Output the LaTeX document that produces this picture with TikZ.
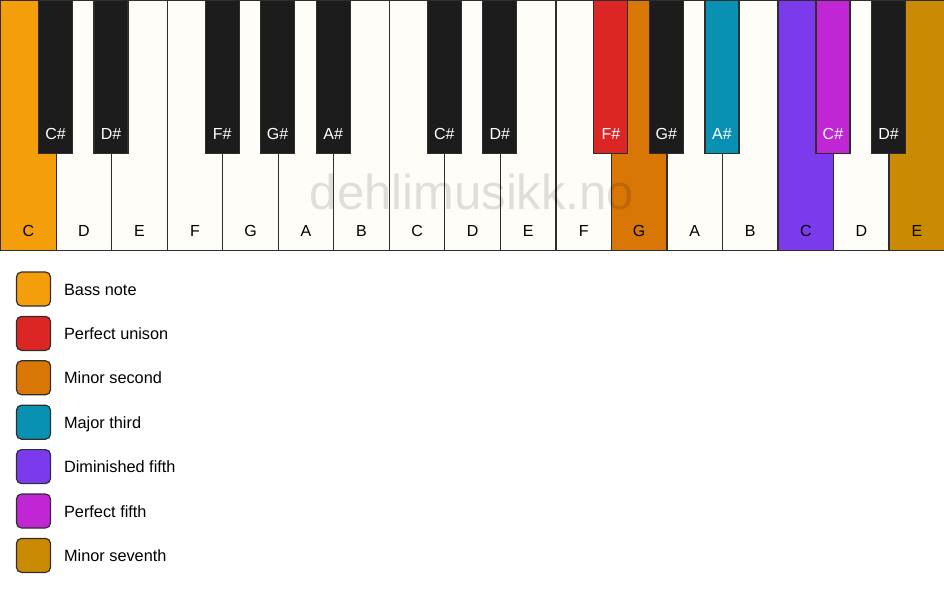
\documentclass[tikz,border=0pt]{standalone}
\usepackage{fontspec}
\setmainfont{Liberation Sans}
\usetikzlibrary{positioning}
\definecolor{ivory}{HTML}{FFFDF8}
\definecolor{keyline}{HTML}{2E2E2E}
\definecolor{keyblack}{HTML}{1C1C1C}
\definecolor{bass}{HTML}{F59E0B}
\definecolor{unison}{HTML}{DC2626}
\definecolor{minsecond}{HTML}{D97706}
\definecolor{majthird}{HTML}{0891B2}
\definecolor{dimfifth}{HTML}{7C3AED}
\definecolor{perffifth}{HTML}{C026D3}
\definecolor{minseventh}{HTML}{CA8A04}
\tikzset{
    whitekey/.style={draw=keyline,line width=1.2pt,fill=#1,minimum width=55.53pt,minimum height=250pt,inner sep=0pt,anchor=north west},
    blackkey/.style={draw=keyline,line width=1.2pt,fill=#1,minimum width=34pt,minimum height=153pt,inner sep=0pt,anchor=north},
    keylabel/.style={font=\fontsize{16}{18}\selectfont,inner sep=0pt,text height=11.5pt,text depth=0pt,text=#1},
    legendbox/.style={draw=keyline,line width=1.2pt,fill=#1,rounded corners=5pt,minimum size=34pt,inner sep=0pt},
    legendtext/.style={font=\fontsize{16.3}{18}\selectfont,inner sep=0pt,text height=12pt,text depth=0pt,anchor=west},
    watermark/.style={font=\fontsize{49}{52}\selectfont,text=black,text opacity=0.12,inner sep=0pt}
}
\begin{document}
\begin{tikzpicture}[x=1pt,y=-1pt]
    \useasboundingbox (0,0) rectangle (944,594);

    % white keys
    \foreach \n/\c [count=\i from 0] in {C/bass,D/ivory,E/ivory,F/ivory,G/ivory,A/ivory,B/ivory,
            C/ivory,D/ivory,E/ivory,F/ivory,G/minsecond,A/ivory,B/ivory,
            C/dimfifth,D/ivory,E/minseventh} {
        \node[whitekey=\c] (w\i) at (\i*55.53,0) {};
        \node[keylabel=black] (lw\i) at ([yshift=20pt]w\i.south) {\n};
    }

    % watermark
    \node[watermark] (wm) at (472,192) {dehlimusikk.no};

    % black keys
    \foreach \b/\n/\c in {1/C\#/keyblack,2/D\#/keyblack,4/F\#/keyblack,5/G\#/keyblack,6/A\#/keyblack,
            8/C\#/keyblack,9/D\#/keyblack,11/F\#/unison,12/G\#/keyblack,13/A\#/majthird,
            15/C\#/perffifth,16/D\#/keyblack} {
        \node[blackkey=\c] (b\b) at (\b*55.53,0) {};
        \node[keylabel=white] (lb\b) at ([yshift=20pt]b\b.south) {\n};
    }

    % legend
    \foreach \c/\t [count=\i from 0] in {bass/Bass note,unison/Perfect unison,minsecond/Minor second,
            majthird/Major third,dimfifth/Diminished fifth,perffifth/Perfect fifth,minseventh/Minor seventh} {
        \node[legendbox=\c] (box\i) at (33.5,289+\i*44.4) {};
        \node[legendtext,right=12.8pt of box\i] (txt\i) {\t};
    }
\end{tikzpicture}
\end{document}
